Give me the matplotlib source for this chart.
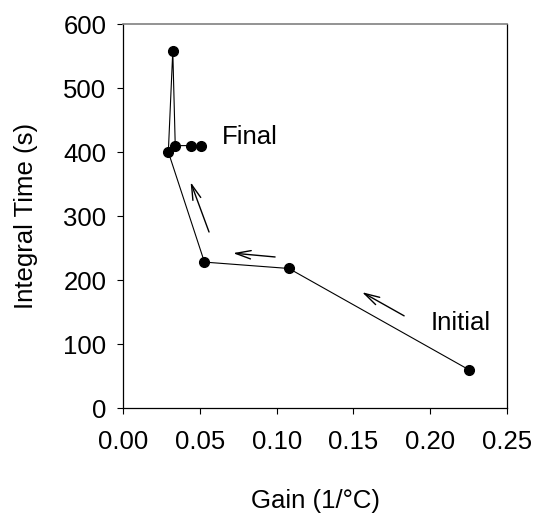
import matplotlib
matplotlib.use("Agg")
import matplotlib.pyplot as plt

plt.rcParams['font.family'] = ['Liberation Sans', 'DejaVu Sans']

gain = [0.225, 0.108, 0.053, 0.0295, 0.0324, 0.034, 0.044, 0.051]
integral_time = [60, 218, 228, 400, 558, 410, 410, 410]

# arrows: (tail_x, tail_y, head_x, head_y)
arrows = [
    (0.183, 144, 0.1556, 181),
    (0.099, 236, 0.0716, 242),
    (0.056, 275, 0.044, 353),
]
labels = [("Final", 0.0645, 423), ("Initial", 0.2005, 133)]

xticks = [0.00, 0.05, 0.10, 0.15, 0.20, 0.25]
yticks = [0, 100, 200, 300, 400, 500, 600]

FS = 18.5

fig = plt.figure(figsize=(5.36, 5.14), dpi=100)
ax = fig.add_axes([0.2295, 0.2062, 0.7165, 0.7471])

ax.plot(gain, integral_time, color='black', lw=0.8, marker='o', markersize=7,
        markerfacecolor='black', markeredgecolor='black')

for tx, ty, hx, hy in arrows:
    ax.annotate('', xy=(hx, hy), xytext=(tx, ty),
                arrowprops=dict(arrowstyle='->,head_length=1.1,head_width=0.3',
                                color='black', lw=1.0, shrinkA=0, shrinkB=0))

for txt, x, y in labels:
    ax.text(x, y, txt, fontsize=FS, ha='left', va='center')

ax.set_xlim(0, 0.25)
ax.set_ylim(0, 600)
ax.set_xticks(xticks)
ax.set_xticklabels([f"{v:.2f}" for v in xticks])
ax.set_yticks(yticks)
ax.set_yticklabels([str(v) for v in yticks])
ax.tick_params(direction='out', length=4, width=0.8, labelsize=FS)
ax.tick_params(axis='x', pad=12)
ax.tick_params(axis='y', pad=8)

for s in ['left', 'bottom', 'right']:
    ax.spines[s].set_linewidth(0.9)
    ax.spines[s].set_color('black')
ax.spines['top'].set_color('#808080')
ax.spines['top'].set_linewidth(1.2)

ax.set_xlabel('Gain (1/°C)', fontsize=FS, labelpad=25)
ax.set_ylabel('Integral Time (s)', fontsize=FS, labelpad=18)

fig.savefig('out.png', dpi=100)
